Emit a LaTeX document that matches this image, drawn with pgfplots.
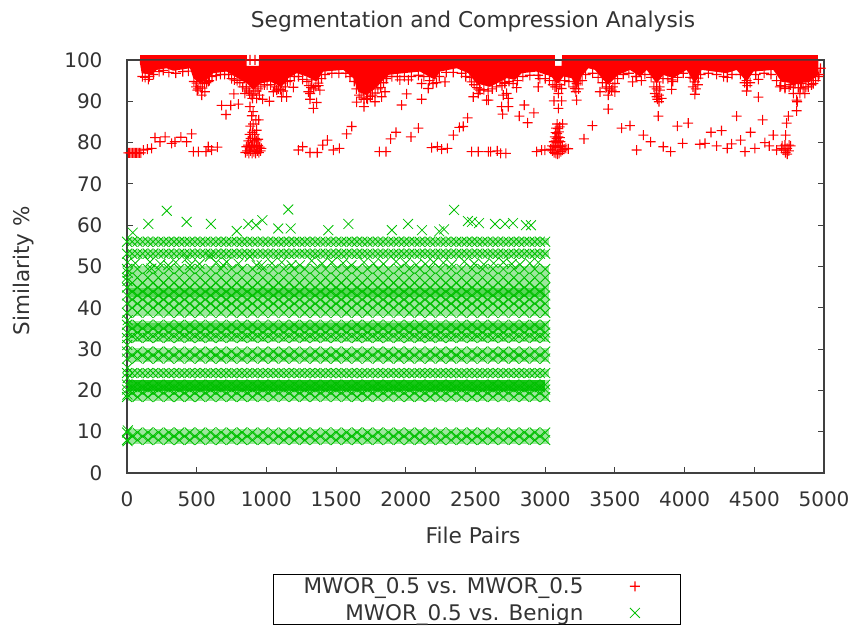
\documentclass[border=0pt]{standalone}
\usepackage{fontspec}
\setmainfont{DejaVu Sans}
\usepackage{pgfplots}
\usepackage{pgfplotstable}
\pgfplotsset{compat=1.18}
\definecolor{gx}{RGB}{0,192,0}
\pgfdeclareplotmark{pf}{\pgfpathrectangle{\pgfqpoint{-5pt}{-.55pt}}{\pgfqpoint{10pt}{1.1pt}}\pgfpathrectangle{\pgfqpoint{-.55pt}{-5pt}}{\pgfqpoint{1.1pt}{10pt}}\pgfusepathqfill}
\pgfplotstableread[header=false]{
0 56.0 53.1 49.4 47.3 44.9 43.0 41.0 38.8 35.9 34.0 32.7 29.4 27.7 24.2 21.4 20.2 18.4 9.8 8.0
75 56.0 53.1 49.4 47.3 44.9 43.0 41.0 38.8 35.9 34.0 32.7 29.4 27.7 24.2 21.4 20.2 18.4 9.8 8.0
150 56.0 53.1 49.4 47.3 44.9 43.0 41.0 38.8 35.9 34.0 32.7 29.4 27.7 24.2 21.4 20.2 18.4 9.8 8.0
225 56.0 53.1 49.4 47.3 44.9 43.0 41.0 38.8 35.9 34.0 32.7 29.4 27.7 24.2 21.4 20.2 18.4 9.8 8.0
300 56.0 53.1 49.4 47.3 44.9 43.0 41.0 38.8 35.9 34.0 32.7 29.4 27.7 24.2 21.4 20.2 18.4 9.8 8.0
375 56.0 53.1 49.4 47.3 44.9 43.0 41.0 38.8 35.9 34.0 32.7 29.4 27.7 24.2 21.4 20.2 18.4 9.8 8.0
450 56.0 53.1 49.4 47.3 44.9 43.0 41.0 38.8 35.9 34.0 32.7 29.4 27.7 24.2 21.4 20.2 18.4 9.8 8.0
525 56.0 53.1 49.4 47.3 44.9 43.0 41.0 38.8 35.9 34.0 32.7 29.4 27.7 24.2 21.4 20.2 18.4 9.8 8.0
600 56.0 53.1 49.4 47.3 44.9 43.0 41.0 38.8 35.9 34.0 32.7 29.4 27.7 24.2 21.4 20.2 18.4 9.8 8.0
675 56.0 53.1 49.4 47.3 44.9 43.0 41.0 38.8 35.9 34.0 32.7 29.4 27.7 24.2 21.4 20.2 18.4 9.8 8.0
750 56.0 53.1 49.4 47.3 44.9 43.0 41.0 38.8 35.9 34.0 32.7 29.4 27.7 24.2 21.4 20.2 18.4 9.8 8.0
825 56.0 53.1 49.4 47.3 44.9 43.0 41.0 38.8 35.9 34.0 32.7 29.4 27.7 24.2 21.4 20.2 18.4 9.8 8.0
900 56.0 53.1 49.4 47.3 44.9 43.0 41.0 38.8 35.9 34.0 32.7 29.4 27.7 24.2 21.4 20.2 18.4 9.8 8.0
975 56.0 53.1 49.4 47.3 44.9 43.0 41.0 38.8 35.9 34.0 32.7 29.4 27.7 24.2 21.4 20.2 18.4 9.8 8.0
1050 56.0 53.1 49.4 47.3 44.9 43.0 41.0 38.8 35.9 34.0 32.7 29.4 27.7 24.2 21.4 20.2 18.4 9.8 8.0
1125 56.0 53.1 49.4 47.3 44.9 43.0 41.0 38.8 35.9 34.0 32.7 29.4 27.7 24.2 21.4 20.2 18.4 9.8 8.0
1200 56.0 53.1 49.4 47.3 44.9 43.0 41.0 38.8 35.9 34.0 32.7 29.4 27.7 24.2 21.4 20.2 18.4 9.8 8.0
1275 56.0 53.1 49.4 47.3 44.9 43.0 41.0 38.8 35.9 34.0 32.7 29.4 27.7 24.2 21.4 20.2 18.4 9.8 8.0
1350 56.0 53.1 49.4 47.3 44.9 43.0 41.0 38.8 35.9 34.0 32.7 29.4 27.7 24.2 21.4 20.2 18.4 9.8 8.0
1425 56.0 53.1 49.4 47.3 44.9 43.0 41.0 38.8 35.9 34.0 32.7 29.4 27.7 24.2 21.4 20.2 18.4 9.8 8.0
1500 56.0 53.1 49.4 47.3 44.9 43.0 41.0 38.8 35.9 34.0 32.7 29.4 27.7 24.2 21.4 20.2 18.4 9.8 8.0
1575 56.0 53.1 49.4 47.3 44.9 43.0 41.0 38.8 35.9 34.0 32.7 29.4 27.7 24.2 21.4 20.2 18.4 9.8 8.0
1650 56.0 53.1 49.4 47.3 44.9 43.0 41.0 38.8 35.9 34.0 32.7 29.4 27.7 24.2 21.4 20.2 18.4 9.8 8.0
1725 56.0 53.1 49.4 47.3 44.9 43.0 41.0 38.8 35.9 34.0 32.7 29.4 27.7 24.2 21.4 20.2 18.4 9.8 8.0
1800 56.0 53.1 49.4 47.3 44.9 43.0 41.0 38.8 35.9 34.0 32.7 29.4 27.7 24.2 21.4 20.2 18.4 9.8 8.0
1875 56.0 53.1 49.4 47.3 44.9 43.0 41.0 38.8 35.9 34.0 32.7 29.4 27.7 24.2 21.4 20.2 18.4 9.8 8.0
1950 56.0 53.1 49.4 47.3 44.9 43.0 41.0 38.8 35.9 34.0 32.7 29.4 27.7 24.2 21.4 20.2 18.4 9.8 8.0
2025 56.0 53.1 49.4 47.3 44.9 43.0 41.0 38.8 35.9 34.0 32.7 29.4 27.7 24.2 21.4 20.2 18.4 9.8 8.0
2100 56.0 53.1 49.4 47.3 44.9 43.0 41.0 38.8 35.9 34.0 32.7 29.4 27.7 24.2 21.4 20.2 18.4 9.8 8.0
2175 56.0 53.1 49.4 47.3 44.9 43.0 41.0 38.8 35.9 34.0 32.7 29.4 27.7 24.2 21.4 20.2 18.4 9.8 8.0
2250 56.0 53.1 49.4 47.3 44.9 43.0 41.0 38.8 35.9 34.0 32.7 29.4 27.7 24.2 21.4 20.2 18.4 9.8 8.0
2325 56.0 53.1 49.4 47.3 44.9 43.0 41.0 38.8 35.9 34.0 32.7 29.4 27.7 24.2 21.4 20.2 18.4 9.8 8.0
2400 56.0 53.1 49.4 47.3 44.9 43.0 41.0 38.8 35.9 34.0 32.7 29.4 27.7 24.2 21.4 20.2 18.4 9.8 8.0
2475 56.0 53.1 49.4 47.3 44.9 43.0 41.0 38.8 35.9 34.0 32.7 29.4 27.7 24.2 21.4 20.2 18.4 9.8 8.0
2550 56.0 53.1 49.4 47.3 44.9 43.0 41.0 38.8 35.9 34.0 32.7 29.4 27.7 24.2 21.4 20.2 18.4 9.8 8.0
2625 56.0 53.1 49.4 47.3 44.9 43.0 41.0 38.8 35.9 34.0 32.7 29.4 27.7 24.2 21.4 20.2 18.4 9.8 8.0
2700 56.0 53.1 49.4 47.3 44.9 43.0 41.0 38.8 35.9 34.0 32.7 29.4 27.7 24.2 21.4 20.2 18.4 9.8 8.0
2775 56.0 53.1 49.4 47.3 44.9 43.0 41.0 38.8 35.9 34.0 32.7 29.4 27.7 24.2 21.4 20.2 18.4 9.8 8.0
2850 56.0 53.1 49.4 47.3 44.9 43.0 41.0 38.8 35.9 34.0 32.7 29.4 27.7 24.2 21.4 20.2 18.4 9.8 8.0
2925 56.0 53.1 49.4 47.3 44.9 43.0 41.0 38.8 35.9 34.0 32.7 29.4 27.7 24.2 21.4 20.2 18.4 9.8 8.0
3000 56.0 53.1 49.4 47.3 44.9 43.0 41.0 38.8 35.9 34.0 32.7 29.4 27.7 24.2 21.4 20.2 18.4 9.8 8.0
}\tA
\pgfplotstableread[header=false]{
37 56.0 53.1 46.0 43.9 42.0 40.0 35.0 33.2 28.5 24.2 20.8 19.4 8.9
112 56.0 53.1 46.0 43.9 42.0 40.0 35.0 33.2 28.5 24.2 20.8 19.4 8.9
187 56.0 53.1 46.0 43.9 42.0 40.0 35.0 33.2 28.5 24.2 20.8 19.4 8.9
262 56.0 53.1 46.0 43.9 42.0 40.0 35.0 33.2 28.5 24.2 20.8 19.4 8.9
337 56.0 53.1 46.0 43.9 42.0 40.0 35.0 33.2 28.5 24.2 20.8 19.4 8.9
412 56.0 53.1 46.0 43.9 42.0 40.0 35.0 33.2 28.5 24.2 20.8 19.4 8.9
487 56.0 53.1 46.0 43.9 42.0 40.0 35.0 33.2 28.5 24.2 20.8 19.4 8.9
562 56.0 53.1 46.0 43.9 42.0 40.0 35.0 33.2 28.5 24.2 20.8 19.4 8.9
637 56.0 53.1 46.0 43.9 42.0 40.0 35.0 33.2 28.5 24.2 20.8 19.4 8.9
712 56.0 53.1 46.0 43.9 42.0 40.0 35.0 33.2 28.5 24.2 20.8 19.4 8.9
787 56.0 53.1 46.0 43.9 42.0 40.0 35.0 33.2 28.5 24.2 20.8 19.4 8.9
862 56.0 53.1 46.0 43.9 42.0 40.0 35.0 33.2 28.5 24.2 20.8 19.4 8.9
937 56.0 53.1 46.0 43.9 42.0 40.0 35.0 33.2 28.5 24.2 20.8 19.4 8.9
1012 56.0 53.1 46.0 43.9 42.0 40.0 35.0 33.2 28.5 24.2 20.8 19.4 8.9
1087 56.0 53.1 46.0 43.9 42.0 40.0 35.0 33.2 28.5 24.2 20.8 19.4 8.9
1162 56.0 53.1 46.0 43.9 42.0 40.0 35.0 33.2 28.5 24.2 20.8 19.4 8.9
1237 56.0 53.1 46.0 43.9 42.0 40.0 35.0 33.2 28.5 24.2 20.8 19.4 8.9
1312 56.0 53.1 46.0 43.9 42.0 40.0 35.0 33.2 28.5 24.2 20.8 19.4 8.9
1387 56.0 53.1 46.0 43.9 42.0 40.0 35.0 33.2 28.5 24.2 20.8 19.4 8.9
1462 56.0 53.1 46.0 43.9 42.0 40.0 35.0 33.2 28.5 24.2 20.8 19.4 8.9
1537 56.0 53.1 46.0 43.9 42.0 40.0 35.0 33.2 28.5 24.2 20.8 19.4 8.9
1612 56.0 53.1 46.0 43.9 42.0 40.0 35.0 33.2 28.5 24.2 20.8 19.4 8.9
1687 56.0 53.1 46.0 43.9 42.0 40.0 35.0 33.2 28.5 24.2 20.8 19.4 8.9
1762 56.0 53.1 46.0 43.9 42.0 40.0 35.0 33.2 28.5 24.2 20.8 19.4 8.9
1837 56.0 53.1 46.0 43.9 42.0 40.0 35.0 33.2 28.5 24.2 20.8 19.4 8.9
1912 56.0 53.1 46.0 43.9 42.0 40.0 35.0 33.2 28.5 24.2 20.8 19.4 8.9
1987 56.0 53.1 46.0 43.9 42.0 40.0 35.0 33.2 28.5 24.2 20.8 19.4 8.9
2062 56.0 53.1 46.0 43.9 42.0 40.0 35.0 33.2 28.5 24.2 20.8 19.4 8.9
2137 56.0 53.1 46.0 43.9 42.0 40.0 35.0 33.2 28.5 24.2 20.8 19.4 8.9
2212 56.0 53.1 46.0 43.9 42.0 40.0 35.0 33.2 28.5 24.2 20.8 19.4 8.9
2287 56.0 53.1 46.0 43.9 42.0 40.0 35.0 33.2 28.5 24.2 20.8 19.4 8.9
2362 56.0 53.1 46.0 43.9 42.0 40.0 35.0 33.2 28.5 24.2 20.8 19.4 8.9
2437 56.0 53.1 46.0 43.9 42.0 40.0 35.0 33.2 28.5 24.2 20.8 19.4 8.9
2512 56.0 53.1 46.0 43.9 42.0 40.0 35.0 33.2 28.5 24.2 20.8 19.4 8.9
2587 56.0 53.1 46.0 43.9 42.0 40.0 35.0 33.2 28.5 24.2 20.8 19.4 8.9
2662 56.0 53.1 46.0 43.9 42.0 40.0 35.0 33.2 28.5 24.2 20.8 19.4 8.9
2737 56.0 53.1 46.0 43.9 42.0 40.0 35.0 33.2 28.5 24.2 20.8 19.4 8.9
2812 56.0 53.1 46.0 43.9 42.0 40.0 35.0 33.2 28.5 24.2 20.8 19.4 8.9
2887 56.0 53.1 46.0 43.9 42.0 40.0 35.0 33.2 28.5 24.2 20.8 19.4 8.9
2962 56.0 53.1 46.0 43.9 42.0 40.0 35.0 33.2 28.5 24.2 20.8 19.4 8.9
}\tB
\begin{document}
\begin{tikzpicture}
\begin{axis}[
  scale only axis, width=697pt, height=413pt,
  xmin=0, xmax=5000, ymin=0, ymax=100,
  xtick={0,500,...,5000}, ytick={0,10,...,100},
  tick align=inside, major tick length=6pt, minor tick length=0pt,
  axis line style={line width=1.2pt,black!75},
  tick style={line width=1pt,black!75},
  clip=false,
  scaled ticks=false,
  /pgf/number format/assume math mode=true,
  /pgf/number format/1000 sep={},
  tick label style={font=\fontsize{20}{22}\selectfont,text=black!80},
  xticklabel style={yshift=-15pt},
  yticklabel style={xshift=-21pt},
  title={Segmentation and Compression Analysis},
  title style={at={(axis description cs:0.4965,1.0775)},anchor=center,font=\fontsize{21.7}{24}\selectfont,text=black!80},
  xlabel={File Pairs},
  xlabel style={at={(axis description cs:0.4965,-0.15)},anchor=center,font=\fontsize{21.7}{24}\selectfont,text=black!80},
  ylabel={Similarity \%},
  ylabel style={at={(axis description cs:-0.149,0.49)},anchor=center,font=\fontsize{21.5}{24}\selectfont,text=black!80},
  legend cell align=right, legend plot pos=right,
  legend style={at={(axis description cs:0.2095,-0.2446)},anchor=north west,
    draw=black, line width=1pt, inner xsep=28pt, inner ysep=1pt,
    font=\fontsize{21.5}{24}\selectfont, text=black!80, row sep=5pt},
  legend image code/.code={\path (-49pt,0pt) (17pt,0pt);\draw[#1,line width=0.8pt] plot coordinates {(0pt,0pt)};},
]
% merged tone of the overplotted green bands
\addplot[fill=gx!38,draw=none,forget plot] coordinates {(0,55.1)(3030,55.1)(3030,56.9)(0,56.9)};
\addplot[fill=gx!38,draw=none,forget plot] coordinates {(0,52.2)(3030,52.2)(3030,54)(0,54)};
\addplot[fill=gx!38,draw=none,forget plot] coordinates {(0,37.9)(3030,37.9)(3030,50.2)(0,50.2)};
\addplot[fill=gx!38,draw=none,forget plot] coordinates {(0,31.7)(3030,31.7)(3030,36.9)(0,36.9)};
\addplot[fill=gx!38,draw=none,forget plot] coordinates {(0,26.8)(3030,26.8)(3030,30.3)(0,30.3)};
\addplot[fill=gx!38,draw=none,forget plot] coordinates {(0,23.2)(3030,23.2)(3030,25.2)(0,25.2)};
\addplot[fill=gx!38,draw=none,forget plot] coordinates {(0,17.5)(3030,17.5)(3030,22.4)(0,22.4)};
\addplot[fill=gx!38,draw=none,forget plot] coordinates {(0,7.1)(3030,7.1)(3030,10.7)(0,10.7)};
\addplot[fill=gx!90,draw=none,forget plot] coordinates {(0,19.8)(3000,19.8)(3000,22.4)(0,22.4)};
\addplot[fill=gx!65,draw=none,forget plot] coordinates {(0,42.5)(3000,42.5)(3000,44.8)(0,44.8)};
\addplot[fill=gx!65,draw=none,forget plot] coordinates {(0,34.7)(3000,34.7)(3000,36.3)(0,36.3)};
% solid region formed by overplotted crosses at and under y = 100; the frame line shows between the parts
\addplot[fill=red,draw=none,forget plot] coordinates {(93,100.14)(858,100.14)(858,101.2)(93,101.2)};
\addplot[fill=red,draw=none,forget plot] coordinates {(946,100.14)(3070,100.14)(3070,101.2)(946,101.2)};
\addplot[fill=red,draw=none,forget plot] coordinates {(3118,100.14)(4959,100.14)(4959,101.2)(3118,101.2)};
\addplot[fill=red,draw=none,forget plot] coordinates {
(93,99.86)(93,99.2)(105,96.8)(177,96.4)(213,97.6)(284,98)(332,97.4)(452,98)(476,95.6)(524,94.3)(583,95.6)(619,96.8)(715,97.2)(775,96)(834,94.8)(863,94.3)(906,92.7)(954,94.3)(1026,94.8)(1109,93.5)(1157,95.6)(1217,96.8)(1289,96)(1360,94.8)(1408,97.2)(1552,97.6)(1624,95.6)(1659,92.3)(1719,91.5)(1767,92.7)(1815,94.3)(1875,96.4)(1982,96.8)(2102,97.2)(2209,95.2)(2245,97.2)(2365,98)(2448,96.8)(2508,94.3)(2604,93.5)(2675,94.7)(2723,95.6)(2783,95.2)(2831,96.8)(2938,97.2)(3046,96)(3070,94.7)(3094,94.3)(3130,96)(3190,95.6)(3225,93.1)(3261,96)(3309,98)(3357,97.6)(3405,95.6)(3452,94)(3524,96.4)(3608,97.6)(3680,96)(3728,97.6)(3799,94.3)(3847,96.4)(3919,95.6)(4014,97.6)(4074,94.3)(4122,97.6)(4301,96.8)(4373,97.6)(4445,94.7)(4493,97.2)(4636,97.6)(4696,94.7)(4804,94.3)(4899,94.7)(4959,96.4)(4959,99.86)(3118,99.86)(3118,98.6)(3070,98.6)(3070,99.86)(946,99.86)(946,98.6)(858,98.6)(858,99.86)(93,99.86)};
\addplot[only marks,mark=pf,red,mark options={fill=red,draw=none},forget plot] coordinates {
(110,96)(130,95.8)(160,96)(190,96.5)(230,97.2)(260,97.5)(300,97)(350,96.8)(400,97.2)(440,97.3)(480,94.8)(495,93.5)(510,93)(525,93.5)(540,93.2)(555,94.3)(570,94.5)(590,95)(610,96)(640,96.2)(670,96.5)(700,96.5)(730,96.5)(750,95.5)(770,95.2)(790,95)(810,94.5)(830,93.5)(855,93.5)(875,92.5)(890,91.5)(910,91.8)(925,92.5)(940,93)(960,93.5)(985,94)(1005,94)(1030,94)(1060,93.5)(1085,93)(1100,92.8)(1120,92.5)(1135,93.5)(1150,94.8)(1170,95)(1200,96)(1230,96)(1260,95.3)(1290,94.8)(1305,93.8)(1320,93.3)(1340,93)(1355,93.6)(1375,93.8)(1395,95.5)(1420,96.5)(1470,96.8)(1520,96.8)(1570,96.8)(1600,96)(1630,94.8)(1645,93)(1665,91.5)(1680,91)(1700,90.5)(1725,90.5)(1745,91.2)(1760,91.5)(1780,92)(1800,93)(1820,93.3)(1840,94.5)(1860,95.5)(1900,96)(1940,96)(1990,96)(2040,96)(2090,96.3)(2130,96)(2170,95)(2195,94.3)(2220,94.5)(2240,96)(2290,97)(2340,97)(2400,96.8)(2430,96)(2460,95.8)(2490,94)(2510,93.3)(2530,93)(2560,92.8)(2590,92.5)(2620,93)(2650,93.5)(2690,93.8)(2710,94.5)(2740,94.8)(2770,94.3)(2800,95)(2840,96)(2890,96.3)(2950,96.3)(3000,95.5)(3030,95)(3055,94)(3080,93.5)(3105,94)(3140,95)(3170,94.8)(3200,93.5)(3220,92.3)(3240,93)(3265,95)(3290,96.5)(3340,96.8)(3380,95.8)(3410,94.5)(3435,93.2)(3460,93)(3485,93.5)(3520,95.5)(3560,96.5)(3600,96.8)(3650,96)(3690,95)(3715,96.5)(3760,95.8)(3780,93.5)(3800,93)(3820,93.5)(3845,95.5)(3880,95.5)(3915,94.8)(3950,95.8)(3990,96.8)(4040,95.8)(4060,93.5)(4080,93)(4095,94)(4115,96.5)(4170,96.8)(4230,96.5)(4280,96)(4340,96.5)(4400,96.5)(4430,94.5)(4450,93.8)(4470,94.5)(4510,96.5)(4570,96.8)(4620,96.5)(4660,95)(4690,93.8)(4720,93.5)(4750,93.5)(4780,93.3)(4830,93.3)(4870,93.5)(4910,94)(4940,95)(4965,96.5)(4975,98)
};
\addplot[only marks,mark=pf,red,mark options={fill=red,draw=none}] coordinates {
(10,77.5)(20,77.5)(30,77.5)(40,77.5)(50,77.5)(60,77.5)(70,77.5)(80,77.5)(90,77.5)(100,77.5)
(117,78.2)(146,78.4)(177,78.6)(201,81.2)(237,80.2)(273,81.4)(320,79.8)(344,80.2)(387,81.3)(428,80.2)(464,82.1)(476,77.8)(512,77.8)(567,77.8)(583,79)(607,78.2)(648,78.9)
(1229,78.2)(1260,79)(1313,77.6)(1365,77.6)(1404,79.4)(1437,80.6)(1480,78.2)(1523,78.6)(1576,82.1)(1612,83.9)(1810,77.8)(1858,77.8)(1891,80.9)(1930,82.5)(2037,81.4)(2090,83.5)(2185,78.8)(2226,79)(2257,78.4)(2298,78.6)(2341,81.8)(2384,83.7)(2412,83.9)(2444,86)(2472,77.8)(2520,77.8)(2592,77.8)
(679,89)(744,89)(799,89.3)(710,86.8)(767,91.8)(846,91.9)(882,88.7)(930,90.7)(973,90.5)(1021,90)(1074,92.7)(1109,91.1)(1145,91.1)(1193,93.4)(1050,92.3)(1109,94.4)(1313,91.9)(1301,92.3)(1337,88.3)(1313,90.5)(1360,89.7)(1384,92.7)(1372,94.4)(1325,95.2)(1647,89.8)(1700,88.7)(1719,90.7)(1779,89.9)(1827,91.1)(1851,92.3)(1863,96)(1695,92.7)(1970,89.1)(2006,91.8)(2114,90.5)(1958,95.2)(2018,95.2)(2114,94.3)(2161,93.1)(2281,94.7)(2484,91.1)(2520,91.9)(2580,90.3)(2472,94.7)(2532,92.7)(536,91.5)(504,92.7)(500,94.4)(559,92.3)(583,94.8)(153,95.3)
(850,77.6)(862,78)(874,77.4)(886,78)(898,77.4)(910,77.8)(922,77.4)(934,78)(946,77.6)(958,78)(856,79)(868,79.4)(880,78.9)(892,79.3)(904,78.9)(916,79.4)(928,79)(940,79.3)(952,78.9)(964,78.6)(870,80.4)(886,81)(900,80.4)(918,81)(930,80.4)(940,80.8)(880,82)(900,82.5)(915,82)(930,83)(885,84)(905,84.5)(925,85.5)(895,86.5)(905,87.5)(945,85.5)(858,93)(880,92)(900,90.7)(950,91.5)(882,100)(918,100)(870,96)(905,97)(925,95)
(2609,77.8)(2656,78)(2680,77.4)(2718,77.4)(2938,77.8)(2974,78.2)(2998,78.2)
(3040,78.4)(3052,78)(3064,77.6)(3076,77.4)(3088,77.2)(3100,77.4)(3112,77.8)(3124,78.2)(3136,78.4)(3148,78.6)(3165,78.5)(3050,79.2)(3062,79)(3074,79.2)(3086,78.8)(3098,79.2)(3110,79)(3122,79.2)(3062,80.2)(3074,80.4)(3086,80)(3098,80.4)(3108,80.2)(3070,81.4)(3082,81)(3094,81.4)(3106,81.2)(3074,82.4)(3086,82.2)(3098,82.6)(3078,83.5)(3092,83.4)(3104,83.8)(3086,84.5)(3125,84.5)
(3278,80.9)(3338,84.1)(3548,83.5)(3608,84.1)(3656,78.2)(3704,81.8)(3756,80.2)(3847,79)(3900,77.8)(3948,84)(3986,79.8)(4026,84.7)(4110,79.6)(4146,79.8)(4189,82.5)(4230,79.2)(4265,82.9)(4306,78.6)(4337,79.7)(4373,86.4)(4402,80.6)(4433,77.8)(4473,82.5)(4504,78.6)(4560,85.5)(4576,80)(4607,79.2)(4636,81.8)(4660,78.2)(4696,78.6)(4725,81.8)
(4700,79.2)(4712,78.2)(4724,77.6)(4736,77.2)(4748,78)(4760,79.2)(4720,79.4)(4735,78.6)(4750,79.4)(4732,84.7)(4744,86.4)(4804,87.7)(4808,89.9)
(2592,90.3)(2695,86.9)(2687,88.7)(2735,88.7)(2814,86.4)(2850,89.1)(2874,84.8)(2919,87.2)(2735,90.7)(2699,91.5)(2723,91.9)(2711,94.3)(2675,95.2)(2795,93.3)(2950,93.5)(2962,95.5)(3094,88.3)(3063,90.1)(3118,90.1)(3070,93.5)(3118,93.1)(3094,91.9)(3070,96)(3225,90.3)(3225,94.3)(3213,93.1)(3250,95)(3452,88.1)(3393,92.3)(3441,93.5)(3500,92.3)(3476,92.7)(3500,94.3)(3452,91.5)(3627,94.7)(3656,96)(3811,86.4)(3816,89.9)(3799,91.1)(3823,92.7)(3787,91.9)(3835,90.7)(3799,94.7)(3805,90.5)(3815,91.5)(3907,92.9)(3907,95.2)(4074,91.7)(4074,94.7)(4062,95.6)(4098,95.6)(4306,95.8)(4445,92.5)(4445,95)(4529,91)(4529,95.3)(4684,93.5)(4720,93.1)(4804,90.3)(4827,91.9)(4863,91.9)(4780,91.9)(4792,94.3)(4839,94.3)(4887,93.5)(4923,94.3)(4959,96)(4850,93)(4815,93.3)(4760,94)
};
\addlegendentry{MWOR\_0.5 vs. MWOR\_0.5}
\addplot[only marks,mark=x,mark size=7pt,gx,line width=0.8pt] coordinates {
(41,58.2)(153,60.3)(285,63.5)(428,60.8)(602,60.3)(787,58.6)(870,60.3)(925,60)(971,61.2)(1085,59.2)(1157,63.8)(1174,59.2)(1444,58.8)(1588,60.3)(1900,58.8)(2016,60.3)(2116,58.8)(2240,58.5)(2274,59)(2346,63.7)(2446,61)(2475,60.8)(2525,60.5)(2640,60.3)(2712,60.3)(2769,60.5)(2862,60)(2898,60)
(165,51.1)(175,49.5)(296,50.3)(428,52)(452,50.3)(595,52.4)(690,50.3)(715,51.1)(882,52.4)(930,50.3)(966,50.3)(1180,50.3)(1240,50.3)(1325,51.4)(1470,51)(1610,50.3)(1700,51)(1840,50.6)(1930,51.2)(2075,50.4)(2200,51)(2330,50.5)(2420,51.2)(2560,50.5)(2700,51)(2820,50.5)(2950,51)
(60,50.8)(240,50.6)(350,51)(520,50.6)(640,51)(800,50.7)(1040,50.8)(1110,51)(1400,50.7)(1550,50.8)(1770,50.7)(2000,50.8)(2140,50.6)(2270,50.9)(2490,50.7)(2630,50.8)(2760,50.6)(2890,50.8)
(4,7.7)(6,10.3)(3,19)(5,23)(4,25.5)(2,31)(5,37)(3,46.5)(6,48.5)(4,51)
};
\addlegendentry{MWOR\_0.5 vs. Benign}
\pgfplotsinvokeforeach{1,...,19}{\addplot[only marks,mark=x,mark size=7pt,gx,line width=0.8pt,forget plot] table[x index=0,y index=#1]{\tA};}
\pgfplotsinvokeforeach{1,...,13}{\addplot[only marks,mark=x,mark size=7pt,gx,line width=0.8pt,forget plot] table[x index=0,y index=#1]{\tB};}
% frame line that lies over the marks
\draw[black!75,line width=1.2pt] (axis cs:0,0) -- (axis cs:0,100);
\end{axis}
\useasboundingbox (-127pt,-153pt) rectangle (731pt,473pt);
\end{tikzpicture}
\end{document}
